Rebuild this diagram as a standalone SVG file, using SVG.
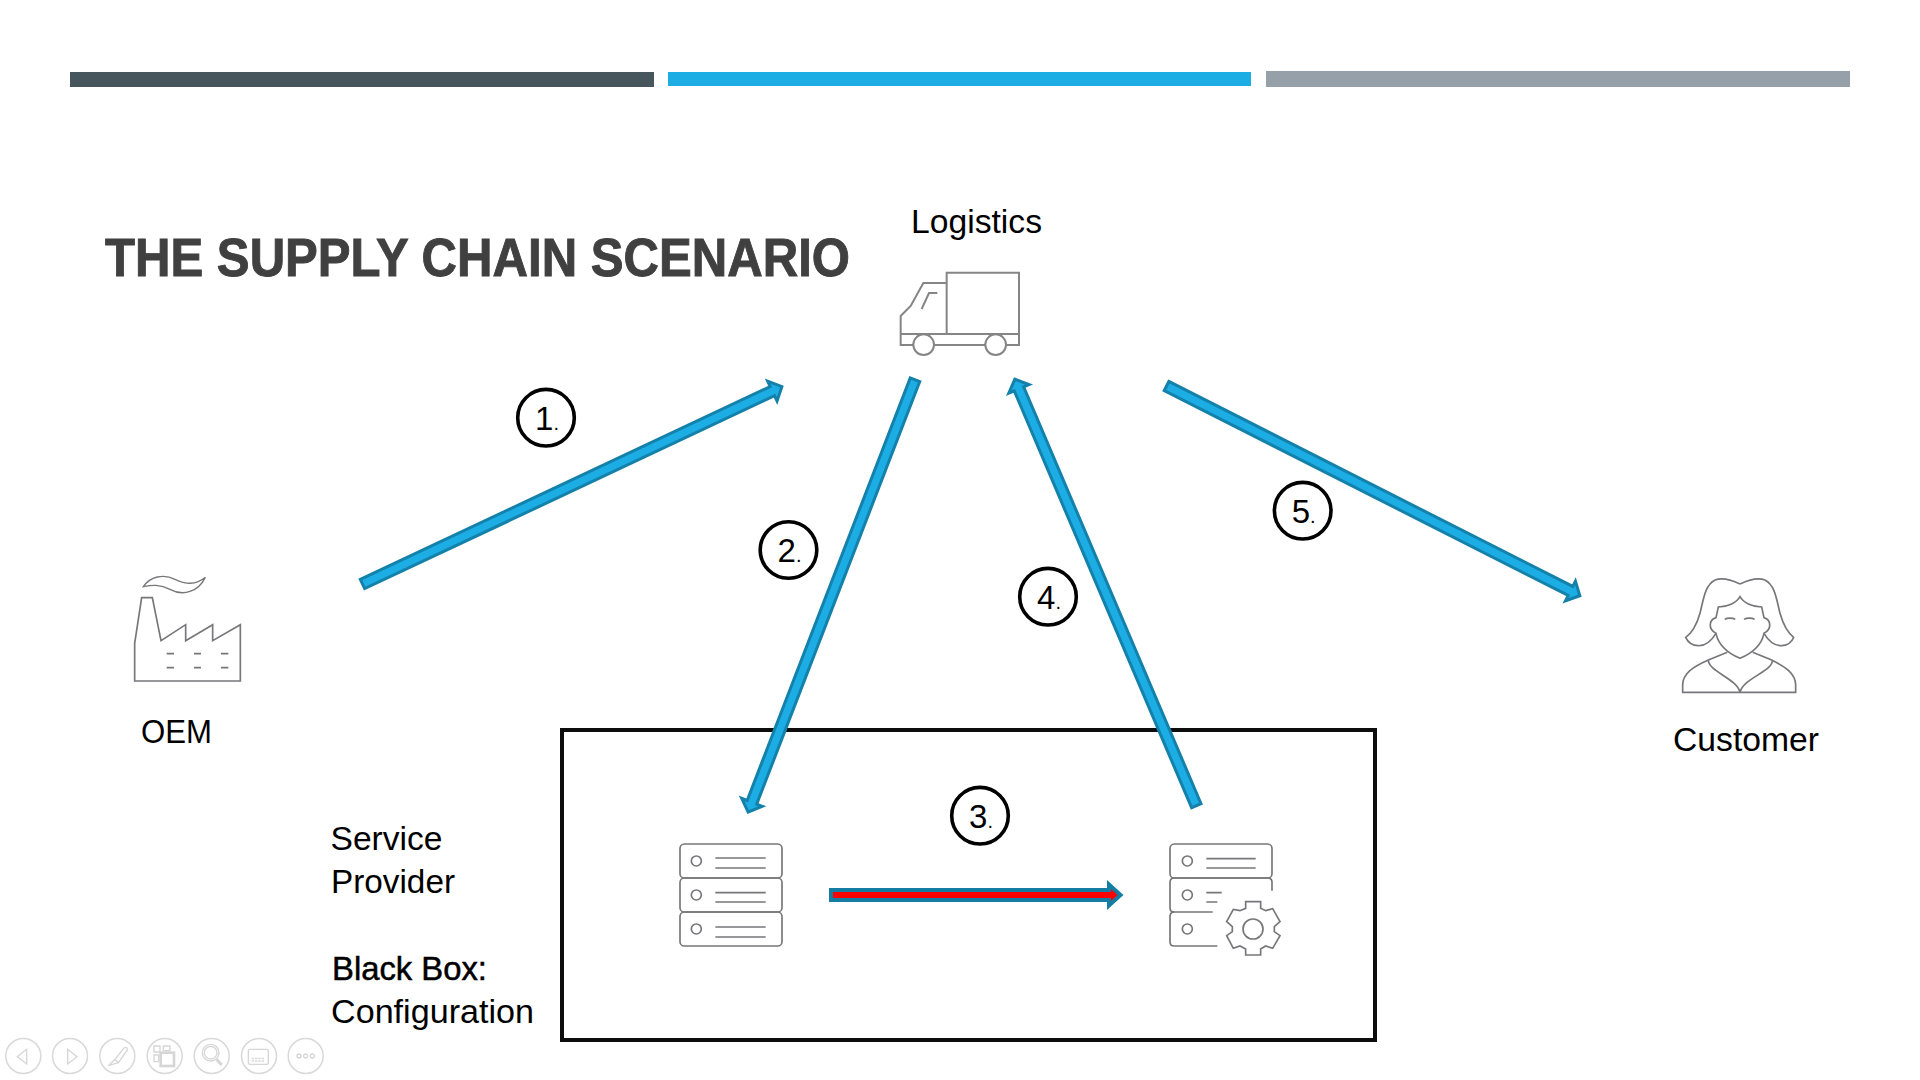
<svg xmlns="http://www.w3.org/2000/svg" width="1920" height="1080" viewBox="0 0 1920 1080">
<style>
text{font-family:"Liberation Sans",Arial,sans-serif;fill:#000}
.lbl{font-size:33px}
.title{font-size:53px;font-weight:700;fill:#404040;stroke:#404040;stroke-width:.9}
.num{font-size:33px;text-anchor:middle}
.dot{font-size:20px}
.ic{fill:none;stroke:#77777b;stroke-width:5;stroke-linejoin:miter}
.tr{fill:none;stroke:#858585;stroke-width:6}
.ar{fill:#1CADE4;stroke:#1481AB;stroke-width:3;stroke-linejoin:miter;stroke-miterlimit:8}
.ring{fill:#fff;stroke:#000;stroke-width:3.6}
.ctl{fill:none;stroke:#d9d9d9;stroke-width:1.5}
.ctli{fill:none;stroke:#d6d6d6;stroke-width:4}
</style>
<rect width="1920" height="1080" fill="#fff"/>
<g id="header-bars">
<rect x="70" y="72" width="584" height="15" fill="#47555C"/>
<rect x="668" y="72" width="583" height="14" fill="#1CADE4"/>
<rect x="1266" y="71" width="584" height="16" fill="#95A0A9"/>
</g>
<text class="title" x="105" y="276" textLength="745" lengthAdjust="spacingAndGlyphs">THE SUPPLY CHAIN SCENARIO</text>

<g id="black-box"><rect x="562" y="730" width="813" height="310" fill="none" stroke="#0d0d0d" stroke-width="4"/></g>

<g id="logistics">
<text class="lbl" x="911" y="233" textLength="131" lengthAdjust="spacingAndGlyphs">Logistics</text>
<g transform="translate(860 190) scale(.33333)" class="tr">
<path d="M260,430V248H477V465H122V378L152,348L190,279H260M122,432H477M185,357L207,309H232"/>
<circle cx="191" cy="464" r="31" fill="#fff"/><circle cx="407" cy="464" r="31" fill="#fff"/>
</g>
</g>

<g id="oem">
<g transform="translate(100 550) scale(.33333)" class="ic">
<path d="M104,393V280L125,143H157L183,272L257,224V272L338,224V272L421,224V393Z"/>
<path d="M200,311H222M282,311H303M363,311H385M200,353H222M282,353H303M363,353H385"/>
<path d="M130,110C150,80 190,70 225,88C260,105 290,105 316,82C295,125 250,140 210,118C180,102 155,105 130,110Z" stroke-width="4"/>
</g>
<text class="lbl" x="141" y="743" textLength="71" lengthAdjust="spacingAndGlyphs">OEM</text>
</g>

<g id="customer">
<g transform="translate(1640 550) scale(.33333)" class="ic">
<path d="M300,102C275,90 245,82 225,90C195,105 190,150 180,190C170,225 155,250 137,262C150,290 195,305 228,250"/>
<path d="M300,102C325,90 355,82 375,90C405,105 410,150 420,190C430,225 445,250 461,262C450,290 405,305 372,250"/>
<path d="M300,140C290,158 265,170 235,171L228,203C205,210 205,240 228,250C235,285 265,310 300,325C335,310 365,285 372,250C395,240 395,210 372,203L365,171C335,170 310,158 300,140Z"/>
<path d="M254,208C262,203 278,203 286,208M312,208C320,203 336,203 344,208"/>
<path d="M262,307L205,330C160,350 128,370 128,405V427H467V405C467,370 435,350 395,330L338,307"/>
<path d="M205,330C205,365 290,385 300,427C310,385 395,365 397,333"/>
</g>
<text class="lbl" x="1673" y="751" textLength="146" lengthAdjust="spacingAndGlyphs">Customer</text>
</g>

<g id="service-provider-label">
<text class="lbl" x="330.5" y="849.5" textLength="112" lengthAdjust="spacingAndGlyphs">Service</text>
<text class="lbl" x="331" y="893" textLength="124" lengthAdjust="spacingAndGlyphs">Provider</text>
<text class="lbl" x="332" y="980" textLength="155" lengthAdjust="spacingAndGlyphs" stroke="#000" stroke-width=".5">Black Box:</text>
<text class="lbl" x="331" y="1023" textLength="203" lengthAdjust="spacingAndGlyphs">Configuration</text>
</g>

<g id="server">
<g transform="translate(660 820) scale(.33333)" class="ic">
<rect x="60" y="72" width="306" height="102" rx="13"/>
<rect x="60" y="174" width="306" height="102" rx="13"/>
<rect x="60" y="276" width="306" height="102" rx="13"/>
<circle cx="109" cy="123" r="15"/><circle cx="109" cy="225" r="15"/><circle cx="109" cy="327" r="15"/>
<path d="M166,114H317M166,144H317M166,218H317M166,246H317M166,321H317M166,351H317"/>
</g>
</g>

<g id="server-config">
<g transform="translate(1100 820) scale(.33333)" class="ic">
<rect x="210" y="72" width="306" height="102" rx="13"/>
<path d="M516,212V187Q516,174 503,174H223Q210,174 210,187V263Q210,276 223,276H338"/>
<path d="M223,276Q210,276 210,289V365Q210,378 223,378H352"/>
<circle cx="262" cy="123" r="15"/><circle cx="262" cy="225" r="15"/><circle cx="262" cy="327" r="15"/>
<path d="M319,116H467M319,144H467M319,218H365M319,246H352"/>
<path d="M437,245H482V265L497,272L518,266L540,305L523,320V335L540,347L518,385L497,378L482,387V405H437V387L420,378L400,385L380,347L397,335V320L380,305L400,268L420,272L437,265Z"/>
<circle cx="459" cy="327" r="30"/>
</g>
</g>

<g id="connectors">
<path class="ar" transform="translate(362.5 584) rotate(-25.2)" d="M0,-5.1H453V-11L463.5,0L453,11V5.1H0Z"/>
<path class="ar" transform="translate(915 379.7) rotate(111.1)" d="M0,-5.1H453V-11L463.5,0L453,11V5.1H0Z"/>
<path class="ar" transform="translate(1196.3 805.7) rotate(-113.05)" d="M0,-5.1H453V-11L463.5,0L453,11V5.1H0Z"/>
<path class="ar" transform="translate(1166.5 386) rotate(26.9)" d="M0,-5.1H453V-11L463.5,0L453,11V5.1H0Z"/>
<path transform="translate(831 895)" d="M0,-5H278V-10.5L289.5,0L278,10.5V5H0Z" fill="#f00" stroke="#137DA3" stroke-width="4" stroke-miterlimit="8"/>
</g>

<g id="step-1"><circle class="ring" cx="546" cy="417.7" r="28.3"/><text class="num" x="547" y="430">1<tspan class="dot">.</tspan></text></g>
<g id="step-2"><circle class="ring" cx="788.5" cy="550" r="28.3"/><text class="num" x="789.5" y="562">2<tspan class="dot">.</tspan></text></g>
<g id="step-3"><circle class="ring" cx="980" cy="815.7" r="28.3"/><text class="num" x="981" y="828">3<tspan class="dot">.</tspan></text></g>
<g id="step-4"><circle class="ring" cx="1048" cy="596.7" r="28.3"/><text class="num" x="1049" y="609">4<tspan class="dot">.</tspan></text></g>
<g id="step-5"><circle class="ring" cx="1302.7" cy="510.7" r="28.3"/><text class="num" x="1303.7" y="523">5<tspan class="dot">.</tspan></text></g>

<g id="slideshow-controls">
<circle class="ctl" cx="23.3" cy="1056" r="17.5"/><circle class="ctl" cx="70" cy="1056" r="17.5"/><circle class="ctl" cx="117.3" cy="1056" r="17.5"/><circle class="ctl" cx="164.7" cy="1056" r="17.5"/><circle class="ctl" cx="211.7" cy="1056" r="17.5"/><circle class="ctl" cx="259" cy="1056" r="17.5"/><circle class="ctl" cx="305.7" cy="1056" r="17.5"/>
<g transform="translate(0 1020) scale(.33333)" class="ctli">
<path d="M80,88L52,110L80,132Z"/><path d="M203,88L231,110L203,132Z"/>
<path d="M345,118L372,84Q382,78 382,90L355,128ZM345,118L325,137L355,128"/>
<path d="M462,78h18v18h-18zM490,78h20v14h-20zM462,105h14v20h-14z"/><rect x="482" y="98" width="40" height="40" stroke-width="8"/>
<circle cx="632" cy="98" r="25"/><circle cx="632" cy="98" r="19"/><path d="M650,118L665,135" stroke-width="9"/>
<rect x="745" y="88" width="60" height="45" rx="5"/><path d="M755,115H795M755,123H795" stroke-dasharray="7 3"/>
<circle cx="897" cy="108" r="6"/><circle cx="917" cy="108" r="6"/><circle cx="937" cy="108" r="6"/>
</g>
</g>
</svg>
